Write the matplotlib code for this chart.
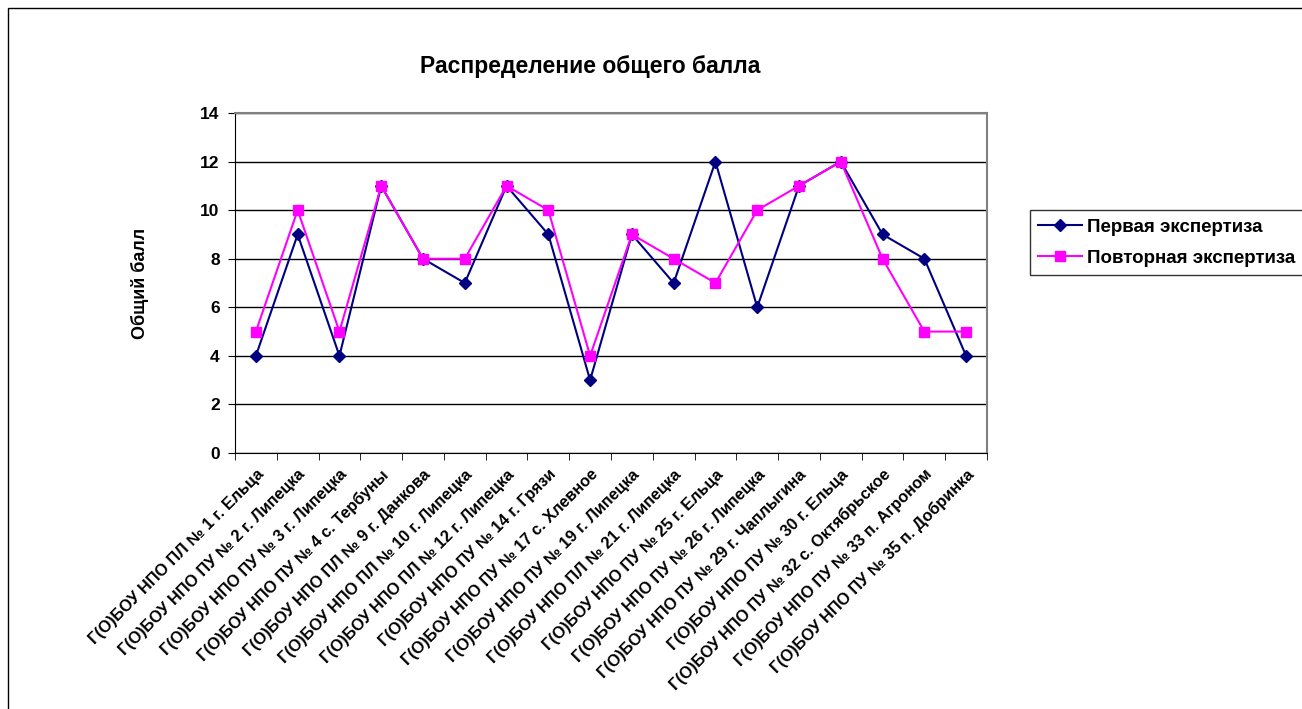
import matplotlib
matplotlib.use("Agg")
import matplotlib.pyplot as plt
from matplotlib.patches import Rectangle
import numpy as np

plt.rcParams['font.family'] = ['Liberation Sans', 'DejaVu Sans']

categories = [
    "Г(О)БОУ НПО ПЛ № 1 г. Ельца",
    "Г(О)БОУ НПО ПУ № 2 г. Липецка",
    "Г(О)БОУ НПО ПУ № 3 г. Липецка",
    "Г(О)БОУ НПО ПУ № 4 с. Тербуны",
    "Г(О)БОУ НПО ПЛ № 9 г. Данкова",
    "Г(О)БОУ НПО ПЛ № 10 г. Липецка",
    "Г(О)БОУ НПО ПЛ № 12 г. Липецка",
    "Г(О)БОУ НПО ПУ № 14 г. Грязи",
    "Г(О)БОУ НПО ПУ № 17 с. Хлевное",
    "Г(О)БОУ НПО ПУ № 19 г. Липецка",
    "Г(О)БОУ НПО ПЛ № 21 г. Липецка",
    "Г(О)БОУ НПО ПУ № 25 г. Ельца",
    "Г(О)БОУ НПО ПУ № 26 г. Липецка",
    "Г(О)БОУ НПО ПУ № 29 г. Чаплыгина",
    "Г(О)БОУ НПО ПУ № 30 г. Ельца",
    "Г(О)БОУ НПО ПУ № 32 с. Октябрьское",
    "Г(О)БОУ НПО ПУ № 33 п. Агроном",
    "Г(О)БОУ НПО ПУ № 35 п. Добринка",
]
first = [4, 9, 4, 11, 8, 7, 11, 9, 3, 9, 7, 12, 6, 11, 12, 9, 8, 4]
second = [5, 10, 5, 11, 8, 8, 11, 10, 4, 9, 8, 7, 10, 11, 12, 8, 5, 5]
series_names = ["Первая экспертиза", "Повторная экспертиза"]
title = "Распределение общего балла"
ylabel = "Общий балл"

W, H = 1302, 709
fig = plt.figure(figsize=(W / 100, H / 100), dpi=100)

# chart-area border
fig.add_artist(Rectangle((8 / W, -0.01), 1.2, (H - 8) / H + 0.01, transform=fig.transFigure,
                         fill=False, edgecolor='black', linewidth=1))

ax = fig.add_axes([235 / W, 1 - 453 / H, (987 - 235) / W, (453 - 113) / H])
x = np.arange(len(categories))
ax.plot(x, first, color='#000080', marker='D', markersize=6, linewidth=1.5, label=series_names[0], zorder=3)
ax.plot(x, second, color='#FF00FF', marker='s', markersize=7, linewidth=1.5, label=series_names[1], zorder=4)

ax.set_xlim(-0.5, len(categories) - 0.5)
ax.set_ylim(0, 14)
ax.set_yticks(np.arange(0, 15, 2))
ax.yaxis.grid(True, color='black', linewidth=1)
ax.set_axisbelow(True)
for s in ['top', 'right']:
    ax.spines[s].set_color('#808080')
    ax.spines[s].set_linewidth(1.5)
ax.spines['left'].set_color('black')
ax.spines['bottom'].set_color('black')

ax.set_xticks(x)
ax.set_xticklabels(categories, rotation=45, ha='right', rotation_mode='anchor',
                   fontsize=11.7, fontweight='bold')
ax.tick_params(axis='x', which='major', length=0, pad=10)
ax.set_xticks(np.arange(-0.5, len(categories), 1), minor=True)
ax.tick_params(axis='x', which='minor', length=5, direction='out')
ax.tick_params(axis='y', length=5, direction='out', labelsize=12.5, pad=6)
for lab in ax.get_yticklabels():
    lab.set_fontweight('bold')

ax.set_ylabel(ylabel, fontsize=13, fontweight='bold', labelpad=37)
fig.text(590 / W, 1 - 66 / H, title, ha='center', va='center', fontsize=16.5, fontweight='bold')

leg = fig.legend(loc='upper left', bbox_to_anchor=(1030 / W, 1 - 210 / H), frameon=True,
                 fancybox=False, edgecolor='black', prop={'weight': 'bold', 'size': 13.5},
                 handlelength=2.3, borderpad=0.45, labelspacing=0.75, handletextpad=0.3,
                 borderaxespad=0)
leg.get_frame().set_linewidth(1)

fig.savefig("out.png", dpi=100)
